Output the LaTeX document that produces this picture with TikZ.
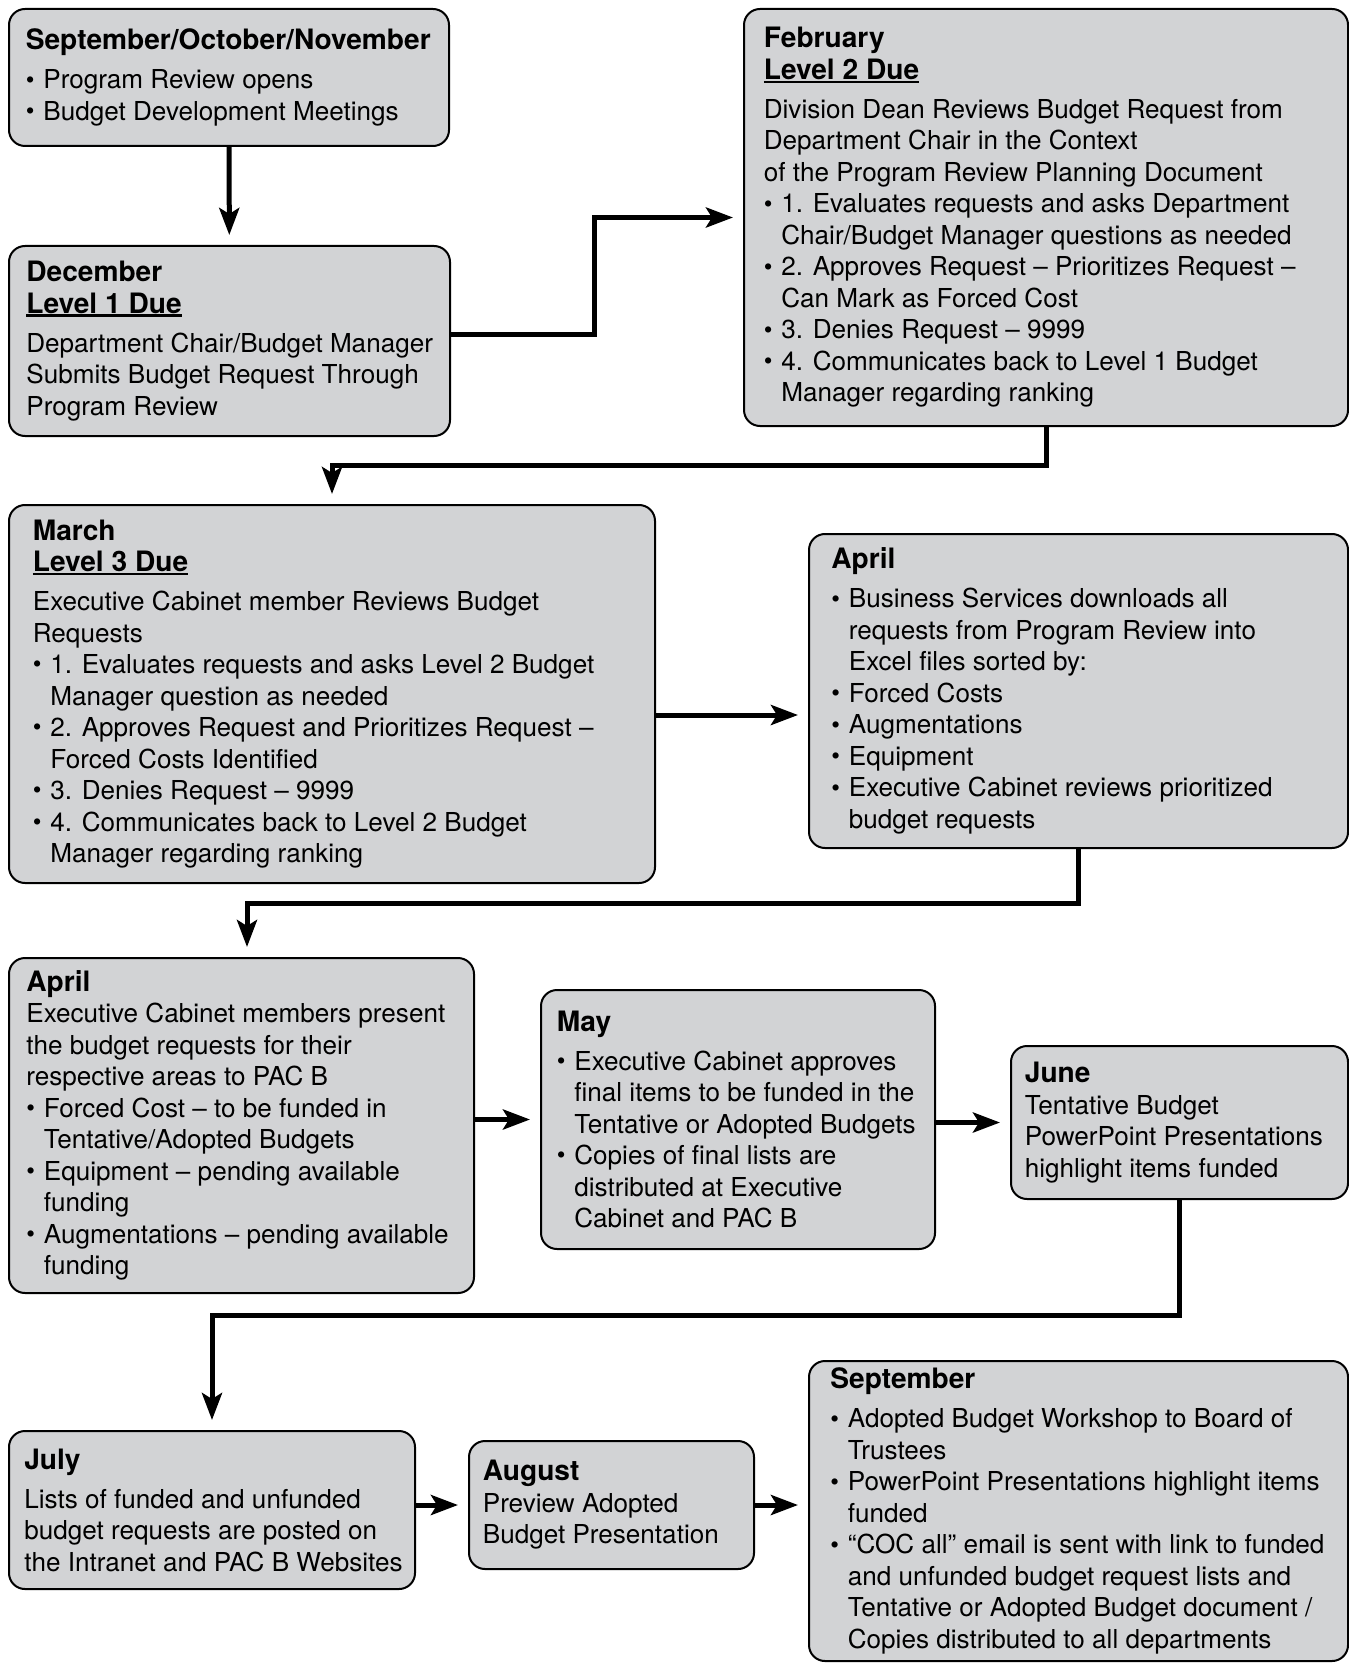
\documentclass[tikz,border=0pt]{standalone}
\usepackage{fontspec}
\setmainfont{TeX Gyre Heros}
\usetikzlibrary{arrows.meta,calc,positioning}
\definecolor{PanelGray}{HTML}{D2D3D5}
\definecolor{InkDark}{HTML}{000000}
\newcommand\bul{\makebox[3.5mm][l]{\raisebox{0.03em}{\scalebox{0.95}{\textbullet}}}}
\newcommand\hang{\hspace*{3.5mm}}
\newcommand\head[1]{{\fontsize{16}{17.9}\selectfont\bfseries #1}}
\newcommand\duemark[1]{\setbox0\hbox{#1}\rlap{\rule[-0.75mm]{\wd0}{0.5mm}}\box0}

\begin{document}
\begin{tikzpicture}[x=0.2mm, y=-0.2mm,
  stage/.style={draw=InkDark, fill=PanelGray, line width=0.4mm, rounded corners=3.2mm, anchor=north west, inner sep=0pt},
  txt/.style={anchor=west, align=left, inner sep=0pt, text=InkDark, font=\fontsize{14.85}{17.92}\selectfont},
  flow/.style={draw=InkDark, line width=1mm, -{Stealth[length=5.4mm, width=4mm, inset=1.2mm]}, shorten >=2mm},
]
\useasboundingbox (0,0) rectangle (1348,1664);

\node[stage, minimum width=88mm, minimum height=27.4mm] (fall) at (8,8) {};
\node[txt] (fall-t) at ([xshift=3.5mm]fall.west) {\head{September/October/November}\\[1.5mm]
\bul Program Review opens\\
\bul Budget Development Meetings};

\node[stage, minimum width=88.2mm, minimum height=38mm] (dec) at (8,245) {};
\node[txt] (dec-t) at ([xshift=3.6mm]dec.west) {\head{December}\\
\head{\duemark{Level 1 Due}}\\[1.5mm]
Department Chair/Budget Manager\\
Submits Budget Request Through\\
Program Review};

\node[stage, minimum width=120.8mm, minimum height=83.4mm] (feb) at (743,8) {};
\node[txt] (feb-t) at ([xshift=4.1mm]feb.west) {\head{February}\\
\head{\duemark{Level 2 Due}}\\[1.5mm]
Division Dean Reviews Budget Request from\\
Department Chair in the Context\\
of the Program Review Planning Document\\
\bul 1. Evaluates requests and asks Department\\
\hang Chair/Budget Manager questions as needed\\
\bul 2. Approves Request – Prioritizes Request –\\
\hang Can Mark as Forced Cost\\
\bul 3. Denies Request – 9999\\
\bul 4. Communicates back to Level 1 Budget\\
\hang Manager regarding ranking};

\node[stage, minimum width=129.2mm, minimum height=75.6mm] (mar) at (8,504) {};
\node[txt] (mar-t) at ([xshift=4.9mm]mar.west) {\head{March}\\
\head{\duemark{Level 3 Due}}\\[1.5mm]
Executive Cabinet member Reviews Budget\\
Requests\\
\bul 1. Evaluates requests and asks Level 2 Budget\\
\hang Manager question as needed\\
\bul 2. Approves Request and Prioritizes Request –\\
\hang Forced Costs Identified\\
\bul 3. Denies Request – 9999\\
\bul 4. Communicates back to Level 2 Budget\\
\hang Manager regarding ranking};

\node[stage, minimum width=107.8mm, minimum height=62.8mm] (apr1) at (808,533) {};
\node[txt] (apr1-t) at ([xshift=4.6mm]apr1.west) {\head{April}\\[1.5mm]
\bul Business Services downloads all\\
\hang requests from Program Review into\\
\hang Excel files sorted by:\\
\bul Forced Costs\\
\bul Augmentations\\
\bul Equipment\\
\bul Executive Cabinet reviews prioritized\\
\hang budget requests};

\node[stage, minimum width=93mm, minimum height=67mm] (apr2) at (8,957) {};
\node[txt] (apr2-t) at ([xshift=3.6mm]apr2.west) {\head{April}\\
Executive Cabinet members present\\
the budget requests for their\\
respective areas to PAC B\\
\bul Forced Cost – to be funded in\\
\hang Tentative/Adopted Budgets\\
\bul Equipment – pending available\\
\hang funding\\
\bul Augmentations – pending available\\
\hang funding};

\node[stage, minimum width=78.8mm, minimum height=51.8mm] (may) at (540,989) {};
\node[txt] (may-t) at ([xshift=3.3mm]may.west) {\head{May}\\[1.5mm]
\bul Executive Cabinet approves\\
\hang final items to be funded in the\\
\hang Tentative or Adopted Budgets\\
\bul Copies of final lists are\\
\hang distributed at Executive\\
\hang Cabinet and PAC B};

\node[stage, minimum width=67.4mm, minimum height=30.6mm] (jun) at (1010,1045) {};
\node[txt] (jun-t) at ([xshift=2.9mm]jun.west) {\head{June}\\
Tentative Budget\\
PowerPoint Presentations\\
highlight items funded};

\node[stage, minimum width=81.2mm, minimum height=31.6mm] (jul) at (8,1430) {};
\node[txt] (jul-t) at ([xshift=3.2mm]jul.west) {\head{July}\\[1.5mm]
Lists of funded and unfunded\\
budget requests are posted on\\
the Intranet and PAC B Websites};

\node[stage, minimum width=57mm, minimum height=25.6mm] (aug) at (468,1440) {};
\node[txt] (aug-t) at ([xshift=2.9mm]aug.west) {\head{August}\\
Preview Adopted\\
Budget Presentation};

\node[stage, minimum width=107.8mm, minimum height=60mm] (sep) at (808,1360) {};
\node[txt] (sep-t) at ([xshift=4.4mm]sep.west) {\head{September}\\[1.5mm]
\bul Adopted Budget Workshop to Board of\\
\hang Trustees\\
\bul PowerPoint Presentations highlight items\\
\hang funded\\
\bul “COC all” email is sent with link to funded\\
\hang and unfunded budget request lists and\\
\hang Tentative or Adopted Budget document /\\
\hang Copies distributed to all departments};

\coordinate (ma) at ([yshift=-4.2mm]mar.east);
\draw[flow] (fall) -- (dec);
\draw[flow] ([yshift=1.2mm]dec.east) -| ([xshift=-29.8mm]feb.west) -- (feb.west);
\draw[flow] (feb.south) |- ($(feb.south)!.5!(mar.north)$) -| (mar.north);
\draw[flow] (ma) -- (ma -| apr1.west);
\draw[flow] (apr1.south) |- ($(apr1.south)!.5!(apr2.north)$) -| ([xshift=1.1mm]apr2.north);
\draw[flow] (apr2.east |- may.west) -- (may.west);
\draw[flow] (may.east |- jun.west) -- (jun.west);
\draw[flow] (jun.south) |- ($(jun.south)!.5!(jul.north)$) -| (jul.north);
\draw[flow] (jul.east |- aug.west) -- (aug.west);
\draw[flow] (aug.east) -- (aug.east -| sep.west);
\end{tikzpicture}
\end{document}
